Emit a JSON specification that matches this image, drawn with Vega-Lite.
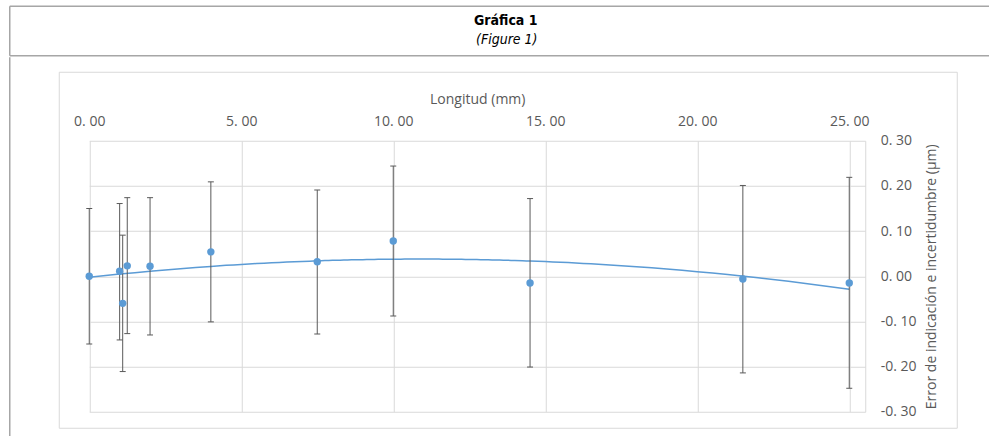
{
  "$schema": "https://vega.github.io/schema/vega-lite/v6.json",
  "padding": {"left": 5.75, "top": 5.75, "right": 0, "bottom": 0},
  "background": "white",
  "config": {
    "font": "Open Sans"
  },
  "datasets": {
    "pts": [
      {"x": 0.0, "y": 0.000, "lo": -0.150, "hi": 0.150},
      {"x": 1.0, "y": 0.011, "lo": -0.141, "hi": 0.161},
      {"x": 1.1, "y": -0.060, "lo": -0.211, "hi": 0.091},
      {"x": 1.25, "y": 0.023, "lo": -0.127, "hi": 0.174},
      {"x": 2.0, "y": 0.022, "lo": -0.130, "hi": 0.174},
      {"x": 4.0, "y": 0.054, "lo": -0.101, "hi": 0.209},
      {"x": 7.5, "y": 0.032, "lo": -0.128, "hi": 0.191},
      {"x": 10.0, "y": 0.078, "lo": -0.088, "hi": 0.244},
      {"x": 14.5, "y": -0.015, "lo": -0.201, "hi": 0.172},
      {"x": 21.5, "y": -0.006, "lo": -0.214, "hi": 0.201},
      {"x": 25.0, "y": -0.015, "lo": -0.248, "hi": 0.219}
    ],
    "head": [
      {"t": "Gráfica 1", "k": "a"},
      {"t": "(Figure 1)", "k": "b"}
    ]
  },
  "concat": [
    {
      "width": 898,
      "height": 49.5,
      "view": {"stroke": null, "fill": null},
      "layer": [
        {
          "data": {"name": "pts"},
          "mark": {"type": "point", "opacity": 0},
          "encoding": {
            "x": {
              "field": "x", "type": "quantitative",
              "scale": {"domain": [0, 25.526], "range": [-49.5, 945], "nice": false, "zero": false},
              "axis": {"orient": "top", "title": null, "labels": false, "ticks": false, "tickSize": 0, "grid": false, "domain": true, "domainColor": "#a6a6a6", "domainWidth": 1.5}
            },
            "y": {
              "field": "y", "type": "quantitative",
              "scale": {"domain": [-0.3, 0.3], "nice": false, "zero": false},
              "axis": {"orient": "left", "offset": 49.5, "title": null, "labels": false, "ticks": false, "tickSize": 0, "grid": false, "domain": true, "domainColor": "#a6a6a6", "domainWidth": 1.5}
            }
          }
        },
        {
          "data": {"name": "pts"},
          "mark": {"type": "point", "opacity": 0},
          "encoding": {
            "x": {
              "field": "x", "type": "quantitative",
              "axis": {"orient": "bottom", "title": null, "labels": false, "ticks": false, "tickSize": 0, "grid": false, "domain": true, "domainColor": "#a6a6a6", "domainWidth": 1.5}
            },
            "y": {"field": "y", "type": "quantitative", "axis": null}
          }
        },
        {
          "data": {"name": "head"},
          "transform": [{"filter": "datum.k == 'a'"}],
          "mark": {"type": "text", "font": "DejaVu Sans Condensed, DejaVu Sans", "fontSize": 14, "fontWeight": "bold", "color": "#000000", "baseline": "middle", "align": "center", "dy": -10, "dx": -2},
          "encoding": {"text": {"field": "t"}}
        },
        {
          "data": {"name": "head"},
          "transform": [{"filter": "datum.k == 'b'"}],
          "mark": {"type": "text", "font": "DejaVu Sans Condensed, DejaVu Sans", "fontSize": 14, "fontStyle": "italic", "color": "#000000", "baseline": "middle", "align": "center", "dy": 9.5, "dx": -1},
          "encoding": {"text": {"field": "t"}}
        }
      ],
      "resolve": {"axis": {"x": "independent", "y": "independent"}}
    },
    {
      "width": 898,
      "height": 356,
      "view": {"stroke": "#d9d9d9", "strokeWidth": 1, "fill": null},
      "data": {"name": "pts"},
      "encoding": {
        "x": {
          "field": "x", "type": "quantitative",
          "scale": {"domain": [0, 25.526], "range": [30.5, 806.5], "nice": false, "zero": false},
          "axis": {
            "orient": "top", "offset": -69, "title": "Longitud (mm)",
            "values": [0, 5, 10, 15, 20, 25],
            "labelExpr": "(datum.value < 0 ? '-' : '') + replace(format(abs(datum.value), '.2f'), '.', '. ')",
            "domain": false, "ticks": false, "tickSize": 0, "labelFlush": false, "labelOverlap": false,
            "grid": true, "gridColor": "#d9d9d9", "gridWidth": 1,
            "labelFont": "Open Sans", "labelFontSize": 14, "labelColor": "#595959", "labelPadding": 12,
            "titleFont": "Open Sans", "titleFontSize": 14, "titleFontWeight": "normal", "titleColor": "#595959", "titlePadding": 8
          }
        }
      },
      "layer": [
        {
          "transform": [{"regression": "y", "on": "x", "method": "poly", "order": 2, "extent": [0, 25]}],
          "mark": {"type": "line", "color": "#5b9bd5", "strokeWidth": 1.5},
          "encoding": {
            "y": {
              "field": "y", "type": "quantitative",
              "scale": {"domain": [-0.3, 0.3], "range": [340, 69], "nice": false, "zero": false},
              "axis": {
                "orient": "left", "offset": -30.5, "title": null,
                "values": [-0.3, -0.2, -0.1, 0, 0.1, 0.2, 0.3],
                "labels": false, "domain": false, "ticks": false, "tickSize": 0,
                "grid": true, "gridColor": "#d9d9d9", "gridWidth": 1
              }
            }
          }
        },
        {
          "mark": {"type": "point", "opacity": 0},
          "encoding": {
            "y": {
              "field": "y", "type": "quantitative",
              "scale": {"domain": [-0.3, 0.3], "range": [370, -15], "nice": false, "zero": false},
              "axis": {
                "orient": "left", "offset": 49.5, "title": null,
                "labels": false, "ticks": false, "tickSize": 0, "grid": false,
                "domain": true, "domainColor": "#a6a6a6", "domainWidth": 1.5
              }
            }
          }
        },
        {
          "mark": {"type": "rule", "color": "#595959", "strokeWidth": 1},
          "encoding": {
            "y": {
              "field": "lo", "type": "quantitative",
              "scale": {"domain": [-0.3, 0.3], "range": [340, 69], "nice": false, "zero": false},
              "axis": {
                "orient": "right", "offset": -91.5,
                "title": "Error de indicación e incertidumbre (µm)",
                "values": [-0.3, -0.2, -0.1, 0, 0.1, 0.2, 0.3],
                "labelExpr": "(datum.value < -0.0001 ? '-' : '') + replace(format(abs(datum.value), '.2f'), '.', '. ')",
                "domain": true, "domainColor": "#d9d9d9", "domainWidth": 1,
                "ticks": false, "tickSize": 0, "grid": false, "labelFlush": false, "labelOverlap": false,
                "labelFont": "Open Sans", "labelFontSize": 14, "labelColor": "#595959", "labelPadding": 15, "labelAlign": "left", "labelBaseline": "middle",
                "titleFont": "Open Sans", "titleFontSize": 14, "titleFontWeight": "normal", "titleColor": "#595959",
                "titleAngle": 270, "titleBaseline": "top", "titlePadding": 8
              }
            },
            "y2": {"field": "hi"}
          }
        },
        {
          "mark": {"type": "tick", "orient": "horizontal", "size": 6, "thickness": 1, "color": "#595959", "opacity": 1},
          "encoding": {"y": {"field": "lo", "type": "quantitative", "axis": null, "scale": {"domain": [-0.3, 0.3], "range": [340, 69], "nice": false, "zero": false}}}
        },
        {
          "mark": {"type": "tick", "orient": "horizontal", "size": 6, "thickness": 1, "color": "#595959", "opacity": 1},
          "encoding": {"y": {"field": "hi", "type": "quantitative", "axis": null, "scale": {"domain": [-0.3, 0.3], "range": [340, 69], "nice": false, "zero": false}}}
        },
        {
          "mark": {"type": "circle", "size": 55, "color": "#5b9bd5", "opacity": 1},
          "encoding": {"y": {"field": "y", "type": "quantitative", "axis": null, "scale": {"domain": [-0.3, 0.3], "range": [340, 69], "nice": false, "zero": false}}}
        }
      ],
      "resolve": {"axis": {"y": "independent"}, "scale": {"y": "independent"}}
    }
  ],
  "columns": 1,
  "align": "none",
  "spacing": 15
}
